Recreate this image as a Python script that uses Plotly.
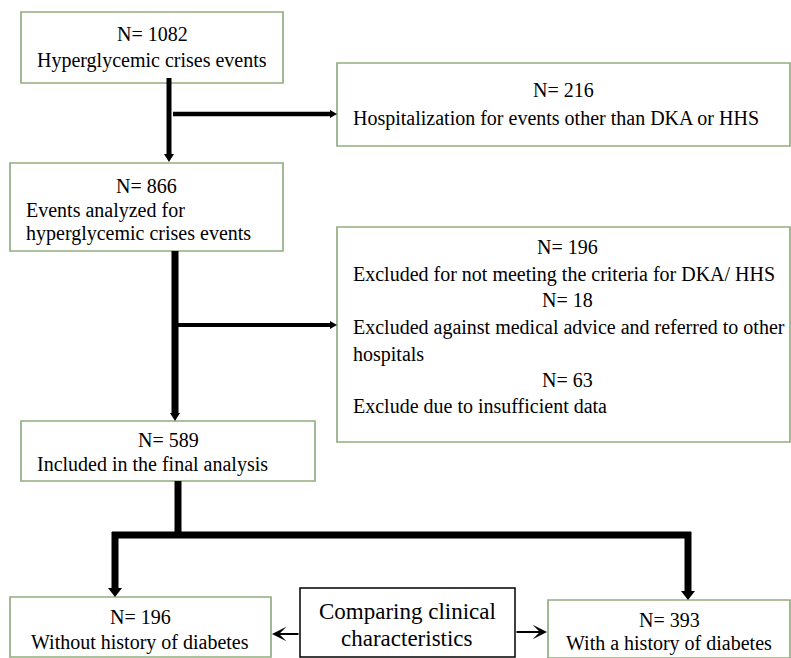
import plotly.graph_objects as go

# ---- data ----
counts = {"total": 1082, "other": 216, "analyzed": 866, "not_criteria": 196,
          "ama": 18, "insufficient": 63, "final": 589, "no_hist": 196, "hist": 393}
labels = {
    "total": ["Hyperglycemic crises events"],
    "other": ["Hospitalization for events other than DKA or HHS"],
    "analyzed": ["Events analyzed for", "hyperglycemic crises events"],
    "not_criteria": ["Excluded for not meeting the criteria for DKA/ HHS"],
    "ama": ["Excluded against medical advice and referred to other", "hospitals"],
    "insufficient": ["Exclude due to insufficient data"],
    "final": ["Included in the final analysis"],
    "no_hist": ["Without history of diabetes"],
    "hist": ["With a history of diabetes"],
}
compare_label = ["Comparing clinical", "characteristics"]

# ---- layout (pixel geometry) ----
W, H = 791, 658
GREEN = "#93AD80"
FONT = "Liberation Serif, Times New Roman, serif"
FS = 20

boxes = {
    "b1": (21, 283, 12, 83),
    "b2": (337, 790, 63, 146),
    "b3": (10, 283, 163, 251),
    "b4": (337, 790, 227, 442),
    "b5": (21, 315, 421, 481),
    "b6": (10, 271, 597, 657),
    "b7": (548, 790, 600, 658),
}
cmp_box = (300, 515, 588, 657)

fig = go.Figure()
shapes = []
annos = []

for k, (x0, x1, y0, y1) in boxes.items():
    shapes.append(dict(type="rect", x0=x0, x1=x1, y0=y0, y1=y1,
                       line=dict(color=GREEN, width=1.7), fillcolor="white", layer="below"))
x0, x1, y0, y1 = cmp_box
shapes.append(dict(type="rect", x0=x0, x1=x1, y0=y0, y1=y1,
                   line=dict(color="black", width=1.5), fillcolor="white", layer="below"))


def text(x, y, s, anchor="center", size=FS):
    annos.append(dict(x=x, y=y, text=s, showarrow=False, xanchor=anchor, yanchor="middle",
                      font=dict(family=FONT, size=size, color="black")))


def ntext(key):
    return f"N= {counts[key]}"

# box 1
text(152, 34, ntext("total"))
text(152, 60, labels["total"][0])
# box 2
text(563, 90, ntext("other"))
text(351, 118, labels["other"][0], "left")
# box 3
text(146, 186, ntext("analyzed"))
text(24, 210, labels["analyzed"][0], "left")
text(24, 233, labels["analyzed"][1], "left")
# box 4
text(567, 247, ntext("not_criteria"))
text(351, 274, labels["not_criteria"][0], "left")
text(567, 300, ntext("ama"))
text(351, 327, labels["ama"][0], "left")
text(351, 354, labels["ama"][1], "left")
text(567, 380, ntext("insufficient"))
text(351, 406, labels["insufficient"][0], "left")
# box 5
text(168, 440, ntext("final"))
text(35, 464, labels["final"][0], "left")
# box 6
text(140, 617, ntext("no_hist"))
text(140, 642, labels["no_hist"][0])
# box 7
text(669, 620, ntext("hist"))
text(669, 643, labels["hist"][0])
# compare
text(407, 611, compare_label[0], size=23)
text(407, 638, compare_label[1], size=23)


def line(xa, ya, xb, yb, w):
    shapes.append(dict(type="line", x0=xa, y0=ya, x1=xb, y1=yb,
                       line=dict(color="black", width=w)))


def head(x, y, direction, size=5, length=8):
    if direction == "down":
        p = f"M {x-size},{y-length} L {x+size},{y-length} L {x},{y} Z"
    elif direction == "right":
        p = f"M {x-length},{y-size} L {x-length},{y+size} L {x},{y} Z"
    shapes.append(dict(type="path", path=p, fillcolor="black", line=dict(color="black", width=0)))


# arrow 1
line(169, 78, 169, 155, 5)
head(169, 162, "down")
line(173, 114, 330, 114, 4.5)
head(337, 114, "right", 4, 7)
# arrow 2
line(175, 251, 175, 414, 7)
head(175, 421, "down")
line(175, 325, 330, 325, 4)
head(337, 325, "right", 4, 7)
# arrow 3
line(178, 481, 178, 535, 7)
line(112, 535, 691, 535, 7)
line(115, 532, 115, 590, 7)
head(115, 597, "down", 7, 9)
line(688, 532, 688, 592, 7)
head(688, 600, "down", 7, 9)

# compare arrows (thin, open heads)
annos.append(dict(x=272, y=634, ax=300, ay=634, xref="x", yref="y", axref="x", ayref="y",
                  showarrow=True, arrowhead=3, arrowwidth=2, arrowsize=1.2, arrowcolor="black", text=""))
annos.append(dict(x=547, y=632, ax=515, ay=632, xref="x", yref="y", axref="x", ayref="y",
                  showarrow=True, arrowhead=3, arrowwidth=2, arrowsize=1.2, arrowcolor="black", text=""))

fig.update_layout(
    width=W, height=H, margin=dict(l=0, r=0, t=0, b=0),
    paper_bgcolor="white", plot_bgcolor="white",
    xaxis=dict(range=[0, W], visible=False, fixedrange=True),
    yaxis=dict(range=[H, 0], visible=False, fixedrange=True),
    shapes=shapes, annotations=annos, showlegend=False,
)
fig.write_html("out.html", config={"displayModeBar": False},
               post_script="document.body.style.margin='0';document.body.style.overflow='hidden';")
